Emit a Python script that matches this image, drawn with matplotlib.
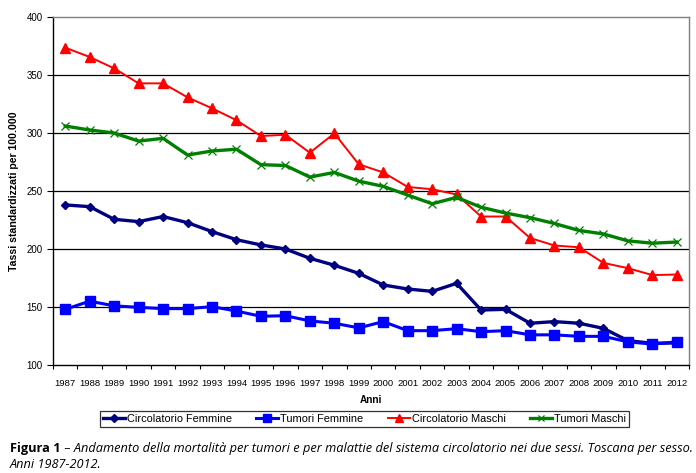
import matplotlib
matplotlib.use("Agg")
import matplotlib.pyplot as plt
import numpy as np

years = [str(y) for y in range(1987, 2013)]
circ_femmine = [238, 236.5, 225.6, 223.6, 228, 222.7, 215, 208, 203.5, 200, 192, 186,
                179, 169, 165.5, 163.5, 170.4, 147.4, 148, 136, 137.4, 136, 131.6, 121, 118.7, 119]
tum_femmine = [148, 155, 151, 149.7, 148.6, 148.6, 150.3, 146.5, 142, 142.5, 138, 136,
               132, 137.4, 129.6, 129.6, 131.3, 128.7, 129.6, 126, 126, 124.7, 124.7, 120, 118, 120]
circ_maschi = [373.6, 365.5, 355.7, 342.8, 342.8, 330.7, 321.3, 311, 297.4, 298.5, 283, 299.7,
               273, 266, 253.5, 251.5, 247, 228, 228, 209.5, 203, 201.5, 188, 183.5, 177.5, 178]
tum_maschi = [306, 302.6, 300, 293, 295.4, 281, 284.5, 286, 272.7, 272, 262, 266,
              258.5, 254, 246.5, 239, 244.5, 236, 231, 227, 222, 216, 213, 207, 205, 206]
y_ticks = [100, 150, 200, 250, 300, 350, 400]

plt.rcParams['font.family'] = ['Liberation Sans', 'DejaVu Sans']

fig = plt.figure(figsize=(6.96, 4.73), dpi=100)
ax = fig.add_axes([53/696, 1-365/473, (689-53)/696, (365-17)/473])

x = np.arange(len(years))
ax.plot(x, circ_femmine, color='#000080', lw=2.4, marker='D', ms=4.5, label='Circolatorio Femmine', zorder=4)
ax.plot(x, tum_femmine, color='#0000FF', lw=2.2, marker='s', ms=6.5, label='Tumori Femmine', zorder=4)
ax.plot(x, circ_maschi, color='#FF0000', lw=1.4, marker='^', ms=7, label='Circolatorio Maschi', zorder=4)
ax.plot(x, tum_maschi, color='#008000', lw=2.4, marker='x', ms=5.5, mew=0.9, label='Tumori Maschi', zorder=4)

ax.set_xlim(-0.5, len(years) - 0.5)
ax.set_ylim(100, 400)
ax.set_yticks(y_ticks)
ax.set_yticklabels([str(v) for v in y_ticks], fontsize=7)
ax.set_xticks(x)
ax.set_xticklabels(years, fontsize=6.8)
ax.set_xticks(np.arange(-0.5, len(years)), minor=True)
ax.tick_params(axis='x', which='major', length=0, pad=10)
ax.tick_params(axis='x', which='minor', length=3, width=0.8, direction='out')
ax.tick_params(axis='y', which='major', length=4, width=0.8, direction='out', pad=3.5)

for v in y_ticks[1:-1]:
    ax.axhline(v, color='black', lw=0.9, zorder=1)

for side in ['top', 'right']:
    ax.spines[side].set_color('#808080')
    ax.spines[side].set_linewidth(1.0)
for side in ['left', 'bottom']:
    ax.spines[side].set_color('black')
    ax.spines[side].set_linewidth(1.0)

ax.set_xlabel('Anni', fontsize=7.2, fontweight='bold')
ax.xaxis.set_label_coords(0.5, -0.085)
ax.set_ylabel('Tassi standardizzati per 100.000', fontsize=7.6, fontweight='bold')
ax.yaxis.set_label_coords(-0.0535, 0.5)

leg = fig.legend(loc='center', bbox_to_anchor=(364.5/696, 1-419/473), ncol=4,
                 fontsize=7.9, frameon=True, fancybox=False, edgecolor='black',
                 handlelength=2.0, handletextpad=0.2, columnspacing=2.2,
                 borderpad=0.25, numpoints=1, markerscale=0.8)
leg.get_frame().set_linewidth(0.9)

cap_font = ['Open Sans', 'DejaVu Sans']
t1 = fig.text(10/696, 1-452/473, 'Figura 1', fontsize=9.2, fontweight='bold',
              family=cap_font, va='baseline')
fig.canvas.draw()
bb = t1.get_window_extent()
fig.text(bb.x1 / (fig.dpi * fig.get_figwidth()), 1-452/473,
         ' \u2013 Andamento della mortalità per tumori e per malattie del sistema circolatorio nei due sessi. Toscana per sesso.',
         fontsize=9.2, style='italic', family=cap_font, va='baseline')
fig.text(10/696, 1-468/473, 'Anni 1987-2012.', fontsize=9.2, style='italic',
         family=cap_font, va='baseline')

fig.savefig('out.png', dpi=100)
